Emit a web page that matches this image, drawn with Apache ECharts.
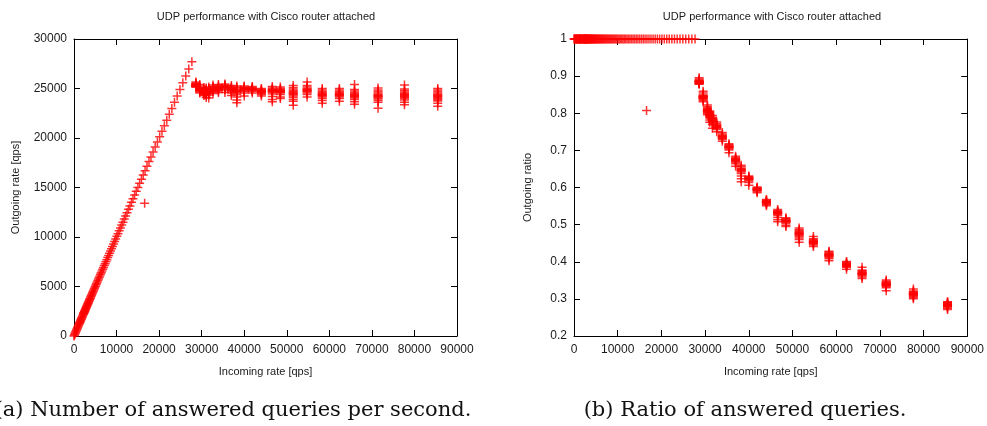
<!DOCTYPE html>
<html>
<head>
<meta charset="utf-8">
<script src="https://cdn.jsdelivr.net/npm/echarts@6/dist/echarts.min.js"></script>
<style>
html,body{margin:0;padding:0;background:#fff;}
#chart{width:987px;height:426px;}
</style>
</head>
<body>
<div id="chart"></div>
<script>
// ---------------- DATA ----------------
// Incoming rates [qps] below saturation: every query answered (outgoing = incoming, ratio = 1)
const linearRates = [
  27700, 26970, 26260, 25570, 24900, 24250, 23610, 22990, 22390, 21800,
  21230, 20670, 20130, 19600, 19080, 18580, 18090, 17620, 17150, 16700,
  16260, 15840, 15420, 15010, 14620, 14240, 13860, 13500, 13140, 12800,
  12460, 12130, 11810, 11500, 11200, 10910, 10620, 10340, 10070, 9800,
  9550, 9300, 9050, 8810, 8580, 8360, 8140, 7920, 7710, 7510,
  7310, 7120, 6930, 6750, 6570, 6400, 6230, 6070, 5910, 5750,
  5600, 5450, 5310, 5170, 5030, 4900, 4770, 4650, 4520, 4400,
  4290, 4170, 4060, 3960, 3850, 3750, 3650, 3560, 3460, 3370,
  3280, 3200, 3110, 3030, 2950, 2870, 2800, 2720, 2650, 2580,
  2510, 2450, 2380, 2320, 2260, 2200, 2080, 1970, 1870, 1770,
  1680, 1590, 1510, 1430, 1350, 1280, 1200, 1100, 1000, 900,
  800, 700, 600, 500, 400, 300, 200, 100, 0
];
// single stray measurement
const outlierIncoming = 16600;
const outlierOutgoing = 13400;

// Saturated measurements: one incoming rate per cluster, several outgoing readings each
const clusterIncoming = [
  28640, 29550, 30530, 31070, 31670, 32660, 33940, 35460, 36980, 38260,
  40000, 41900, 44030, 46600, 48490, 51520, 54780, 58340, 62360, 65920,
  71450, 77660, 85470
];
const clusterOutgoing = [
  [25650, 25550, 25480, 25420, 25380, 25350, 25300, 25280, 25250, 25200, 25180, 25150, 25400, 25330],
  [25400, 25250, 25100, 25050, 25000, 24950, 24920, 24880, 24850, 24800, 24750, 24650, 24550, 24980],
  [25100, 24950, 24850, 24800, 24720, 24680, 24650, 24600, 24550, 24500, 24400, 24300],
  [25050, 24950, 24850, 24780, 24720, 24700, 24650, 24600, 24550, 24450, 24300, 24100],
  [25150, 25000, 24900, 24850, 24800, 24760, 24720, 24680, 24600, 24500, 24350, 24050],
  [25350, 25200, 25100, 25050, 25000, 24950, 24900, 24850, 24800, 24700, 24500],
  [25400, 25250, 25150, 25080, 25030, 25000, 24950, 24900, 24850, 24750, 24600],
  [25450, 25350, 25280, 25220, 25180, 25150, 25100, 25050, 24950, 24850, 24600],
  [25300, 25150, 25050, 25000, 24950, 24900, 24850, 24800, 24700, 24550, 24300],
  [25250, 25100, 24950, 24850, 24780, 24720, 24650, 24550, 24400, 24150, 23850, 23550],
  [25250, 25150, 25080, 25020, 24980, 24930, 24880, 24800, 24700, 24550, 24250],
  [25200, 25100, 25030, 24980, 24940, 24900, 24850, 24800, 24700, 24550],
  [25000, 24900, 24820, 24760, 24720, 24680, 24640, 24580, 24500, 24400, 24250],
  [25200, 25050, 24950, 24880, 24820, 24780, 24740, 24680, 24600, 24450, 24200, 23900, 23650],
  [25150, 25000, 24900, 24820, 24760, 24720, 24680, 24620, 24550, 24400, 24150, 24000],
  [25300, 25100, 24950, 24800, 24700, 24600, 24520, 24450, 24380, 24250, 24100, 23900, 23700, 23300],
  [25650, 25300, 25150, 25000, 24920, 24860, 24800, 24750, 24680, 24550, 24400, 24150],
  [25000, 24850, 24700, 24600, 24500, 24430, 24380, 24320, 24250, 24150, 24000, 23800, 23500],
  [25000, 24850, 24700, 24600, 24500, 24420, 24370, 24320, 24250, 24150, 24000, 23700],
  [25400, 24900, 24750, 24600, 24480, 24380, 24300, 24230, 24150, 24050, 23900, 23650, 23400],
  [25050, 24850, 24700, 24550, 24420, 24330, 24260, 24200, 24130, 24050, 23950, 23800, 23600, 23000],
  [25350, 24950, 24800, 24650, 24520, 24420, 24350, 24280, 24200, 24120, 24000, 23850, 23600, 23350],
  [25000, 24850, 24700, 24550, 24420, 24320, 24250, 24180, 24100, 24000, 23900, 23750, 23500, 23200]
];

// Text
const chartTitle = 'UDP performance with Cisco router attached';
const xAxisName = 'Incoming rate [qps]';
const leftYName = 'Outgoing rate [qps]';
const rightYName = 'Outgoing ratio';
const captionA = '(a) Number of answered queries per second.';
const captionB = '(b) Ratio of answered queries.';

// Axis ranges
const xRange = { min: 0, max: 90000, interval: 10000 };
const leftYRange = { min: 0, max: 30000, interval: 5000 };
const rightYRange = { min: 0.2, max: 1, interval: 0.1 };

// ---------------- BUILD ----------------
const rateData = [];
const ratioData = [];
linearRates.forEach(r => { rateData.push([r, r]); ratioData.push([r, 1]); });
rateData.push([outlierIncoming, outlierOutgoing]);
ratioData.push([outlierIncoming, outlierOutgoing / outlierIncoming]);
clusterIncoming.forEach((inc, i) => {
  clusterOutgoing[i].forEach(out => {
    rateData.push([inc, out]);
    ratioData.push([inc, out / inc]);
  });
});

const SANS = '"Liberation Sans", Arial, sans-serif';
const TXT = '#1a1a1a';
const plus = 'path://M3.33,0H4.67V3.33H8V4.67H4.67V8H3.33V4.67H0V3.33H3.33Z';

function xAxes(gridIndex) {
  const base = {
    type: 'value', gridIndex, min: xRange.min, max: xRange.max, interval: xRange.interval,
    splitLine: { show: false },
    axisLine: { show: true, onZero: false, lineStyle: { color: '#000', width: 1 } },
    axisTick: { show: true, inside: true, length: 6, lineStyle: { color: '#000' } }
  };
  return [
    Object.assign({}, base, {
      position: 'bottom',
      name: xAxisName, nameLocation: 'middle', nameGap: 30,
      nameTextStyle: { fontFamily: SANS, fontSize: 11, color: TXT },
      axisLabel: { fontFamily: SANS, fontSize: 12, color: TXT, margin: 8, formatter: v => String(v) }
    }),
    Object.assign({}, base, { position: 'top', axisLabel: { show: false } })
  ];
}
function yAxes(gridIndex, range, name, gap, fmt) {
  const base = {
    type: 'value', gridIndex, min: range.min, max: range.max, interval: range.interval,
    splitLine: { show: false },
    axisLine: { show: true, onZero: false, lineStyle: { color: '#000', width: 1 } },
    axisTick: { show: true, inside: true, length: 6, lineStyle: { color: '#000' } }
  };
  return [
    Object.assign({}, base, {
      position: 'left',
      name, nameLocation: 'middle', nameGap: gap,
      nameTextStyle: { fontFamily: SANS, fontSize: 11, color: TXT },
      axisLabel: { fontFamily: SANS, fontSize: 12, color: TXT, margin: 7, formatter: fmt }
    }),
    Object.assign({}, base, { position: 'right', axisLabel: { show: false } })
  ];
}

const option = {
  animation: false,
  backgroundColor: '#fff',
  grid: [
    { left: 74, top: 39, width: 383, height: 297 },
    { left: 574, top: 39, width: 396, height: 297 }
  ],
  xAxis: [...xAxes(0), ...xAxes(1)],
  yAxis: [
    ...yAxes(0, leftYRange, leftYName, 53, v => String(v)),
    ...yAxes(1, rightYRange, rightYName, 41, v => String(+v.toFixed(1)))
  ],
  series: [
    {
      type: 'scatter', xAxisIndex: 0, yAxisIndex: 0, data: rateData,
      symbol: plus, symbolSize: 9, clip: false,
      itemStyle: { color: '#ff0000' }, emphasis: { disabled: true }
    },
    {
      type: 'scatter', xAxisIndex: 2, yAxisIndex: 2, data: ratioData,
      symbol: plus, symbolSize: 9, clip: false,
      itemStyle: { color: '#ff0000' }, emphasis: { disabled: true }
    }
  ],
  graphic: [
    { type: 'text', x: 266, y: 17, style: { text: chartTitle, font: '11px ' + SANS, fill: TXT, textAlign: 'center', textVerticalAlign: 'middle' } },
    { type: 'text', x: 772, y: 17, style: { text: chartTitle, font: '11px ' + SANS, fill: TXT, textAlign: 'center', textVerticalAlign: 'middle' } },
    { type: 'text', x: 233, y: 411, style: { text: captionA, font: '21px "DejaVu Serif", serif', fill: '#111', textAlign: 'center', textVerticalAlign: 'middle' } },
    { type: 'text', x: 745, y: 411, style: { text: captionB, font: '21px "DejaVu Serif", serif', fill: '#111', textAlign: 'center', textVerticalAlign: 'middle' } }
  ]
};

const chart = echarts.init(document.getElementById('chart'), null, { renderer: 'canvas' });
chart.setOption(option);
</script>
</body>
</html>
